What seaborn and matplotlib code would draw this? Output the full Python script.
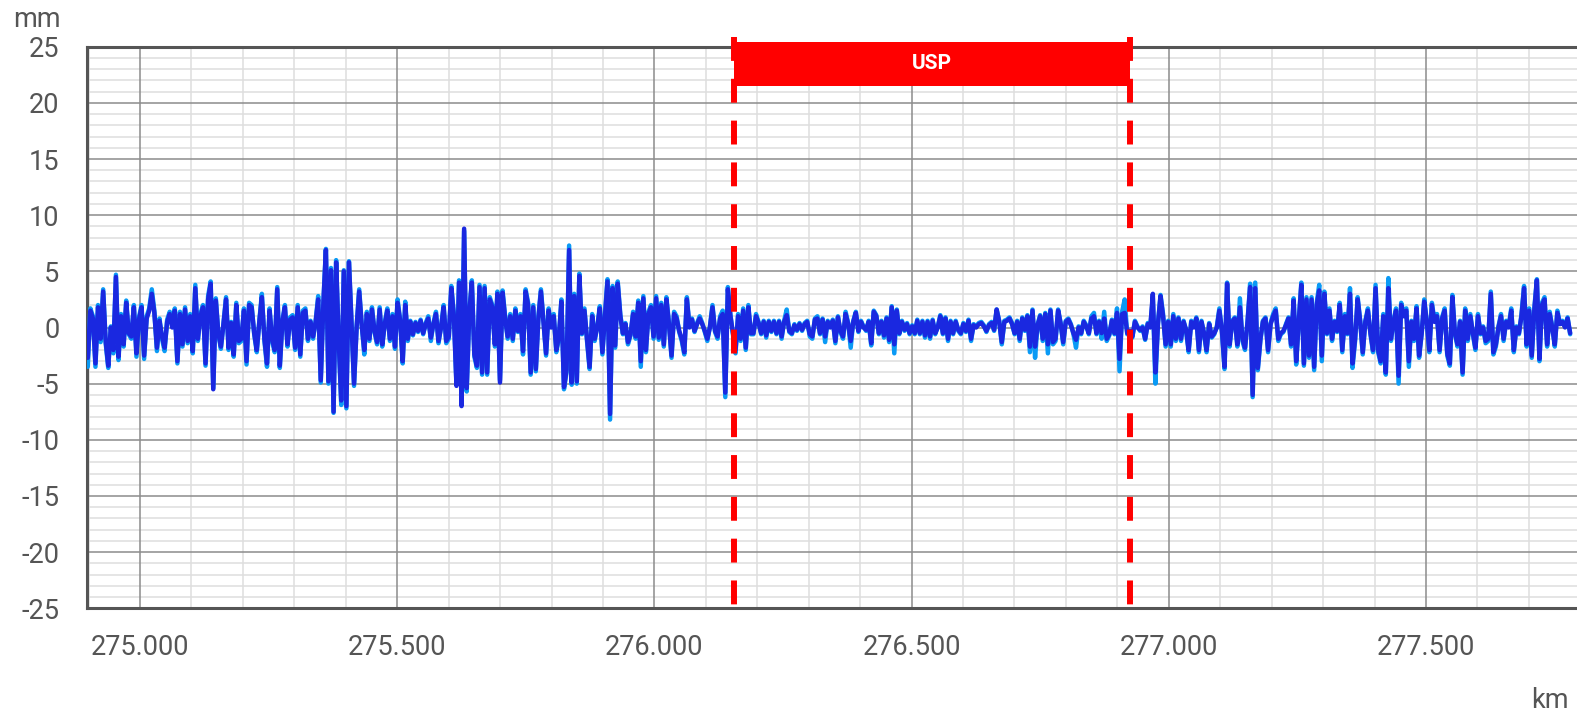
import numpy as np
import matplotlib
matplotlib.use("Agg")
import matplotlib.pyplot as plt
import seaborn as sns
from matplotlib.patches import Rectangle
from matplotlib.ticker import MultipleLocator, FuncFormatter

sns.set_theme(style="white")
plt.rcParams['font.family'] = ['Roboto', 'DejaVu Sans']

# ---------------- data ----------------
km_start = 274.8985      # first sample position (km)
km_step = 0.004977       # sample spacing (km)

# dark blue series, mm (one row = 100 m)
dark_mm = [
    -2.7, 1.5, 0.8, -3.2, 1.8, -1.0, 3.2, -1.2, -3.4, 0.0, -2.0, 4.5, -2.6, 1.0, -1.5, 2.2, -0.5, -0.8, 1.8, -2.3,
    0.7, 1.8, -2.5, 0.8, 1.5, 3.0, 1.3, -1.8, 0.6, -0.8, -1.8, 0.5, 1.2, 0.0, 1.5, -3.0, 1.2, -1.5, 1.6, -1.2,
    1.0, -2.1, 3.5, -1.0, 1.0, 1.8, -3.2, 2.5, 3.9, -5.5, 2.4, -0.5, -1.7, 0.3, 2.5, -1.8, 0.4, -2.4, 2.0, -1.2,
    -1.0, 1.5, -3.0, 2.0, 1.8, -0.5, -2.0, 0.5, 2.7, -1.0, -3.2, 1.5, -1.0, -2.0, 3.4, -3.4, 0.5, 1.8, -1.5, 0.7,
    0.9, -1.8, 1.8, -2.4, 1.3, 1.5, -1.0, 0.5, -0.8, 0.5, 2.5, -4.7, 2.0, 6.9, -4.8, 5.1, -7.5, 5.8, -1.0, -6.5,
    5.0, -7.0, 5.8, 0.5, -5.0, 0.0, 3.2, 0.2, -2.0, 1.2, -1.0, 1.6, -0.3, -1.3, 1.6, -1.5, 0.3, 1.5, -1.0, 1.0,
    -1.7, 2.2, 0.6, -3.0, 2.0, -1.0, 0.5, -0.6, 0.4, -0.3, 0.6, -0.5, 0.3, 0.8, -0.9, 0.3, 1.2, -1.2, 0.0, 1.8,
    -1.2, -0.8, 3.5, 1.0, -5.2, 4.0, -7.0, 8.8, -5.4, 1.2, 4.0, -2.4, -3.4, 3.6, -4.0, 3.5, -4.0, 2.5, 1.8, -1.5,
    3.0, -4.9, 3.1, 0.8, -0.8, 1.0, -1.0, 1.5, -0.3, 1.0, -2.1, 3.2, 2.0, -4.0, 1.8, -3.7, 0.8, 3.2, 0.5, -2.3,
    1.5, 0.0, 1.0, -2.0, -0.8, 2.3, -5.3, -3.8, 6.9, -4.9, 2.8, -4.8, 4.6, -0.5, 1.5, -1.0, -3.5, 1.0, -1.0, 0.0,
    1.7, -2.2, 1.0, 4.1, -7.7, 3.5, -1.6, 3.9, 1.0, -0.5, 0.3, -1.3, -0.6, 1.2, -0.8, 2.2, -3.0, 2.6, -2.0, 1.2,
    1.8, -0.8, 2.6, -0.9, 2.0, -1.5, 2.5, 0.3, -2.5, 1.2, 0.8, -0.3, -1.0, -2.2, 2.5, 0.0, 0.7, -0.3, 0.3, 0.8,
    0.3, -0.3, -1.0, 0.0, 1.8, -0.3, -0.8, 0.8, 1.2, -5.8, 3.4, 1.0, -0.5, -2.0, 1.0, -1.0, 1.5, -1.8, 1.8, -0.5,
    -0.5, 1.0, 0.4, -0.5, 0.5, -0.7, 0.5, -0.3, 0.5, -0.5, 0.5, -0.8, 0.5, 1.1, -0.3, -0.5, 0.2, -0.2, 0.3, -0.2,
    0.3, 0.5, -0.6, -0.8, 0.7, 0.8, -0.5, 0.7, -0.8, 0.5, 0.0, 0.6, -1.2, 0.9, -0.3, -0.8, 1.2, 0.3, -1.2, 0.5,
    1.3, -0.3, 0.5, 0.0, -0.2, 0.5, -1.4, 1.4, 1.0, -0.5, 0.5, -0.7, 0.8, -1.1, 1.8, -1.5, 1.5, -0.5, 0.5, -0.2,
    0.3, -0.5, 0.1, -0.5, 0.6, -0.5, 0.5, -0.7, 0.5, -0.8, 0.6, -0.5, 0.0, 1.0, -0.5, 0.8, -1.0, 0.5, -0.5, 0.5,
    -0.2, -0.5, 0.3, -0.3, 0.6, -1.0, 0.2, 0.0, 0.3, 0.4, 0.1, -0.3, 0.2, 0.4, -0.2, 1.6, 0.5, -1.3, 0.5, 0.6,
    0.8, 0.3, -0.5, 0.5, -1.0, 0.8, -0.2, 1.0, -1.7, 1.5, -1.7, 0.2, 1.0, -1.0, 1.2, -1.5, 1.5, -1.3, -1.0, 1.5,
    0.3, -1.3, 0.5, 0.7, 0.2, -0.5, -1.1, 0.0, -0.5, 0.5, 0.1, -0.5, 0.8, 1.0, -0.5, 0.5, -0.5, 0.8, -1.0, -0.6,
    0.6, -0.5, 1.3, -2.8, 1.2, 1.3, -0.5, -0.3, -0.8, 0.5, 0.0, -0.2, 0.0, -1.0, 0.3, 0.0, 3.0, -4.0, 0.3, 2.8,
    1.0, -1.5, 0.5, -1.5, 1.0, -1.0, 0.8, -1.0, 0.5, -0.2, -2.0, 0.5, 0.0, 0.8, -2.0, 0.5, -0.5, -2.0, 0.3, -0.8,
    -0.5, 0.0, 1.5, -0.3, -3.5, 3.9, -1.5, 0.5, 0.8, -1.5, 1.8, -1.0, -1.8, 0.5, 3.6, -6.0, 3.5, -3.6, -1.0, 0.5,
    0.8, -2.0, 0.3, 1.0, 1.5, -1.0, -0.5, -0.3, 0.2, 0.8, -1.5, 2.4, -3.0, 0.5, 3.8, -3.2, 2.5, -2.5, 2.5, -3.5,
    2.0, 3.3, -2.5, 3.0, -0.5, 1.5, -1.0, 0.5, -0.3, 2.0, -2.0, 1.0, -0.5, 3.0, -3.2, -1.0, 2.5, 0.5, -2.2, 0.5,
    1.5, -0.5, -2.0, 3.5, -2.0, -3.0, 1.0, -4.0, 3.5, -1.0, 0.5, 1.5, -4.3, 2.0, 1.0, 1.5, -3.0, 0.5, -1.0, 1.7,
    -2.5, -0.5, 2.3, 0.5, -2.0, 2.0, 0.5, 1.0, -2.0, 0.8, 1.5, -2.3, -3.2, 2.7, -0.5, -1.5, 0.5, -4.0, 1.5, -1.0,
    1.0, -0.5, -1.8, 1.0, -0.5, 0.0, -1.2, -1.0, 3.0, -2.2, -1.5, 0.0, 1.0, -1.0, 0.5, 0.0, 1.5, -2.0, 0.0, -0.5,
    1.0, 3.5, -1.5, 1.5, -2.5, 1.5, 4.2, -2.8, 2.0, 2.5, -1.5, 1.2, 0.0, -1.5, 1.3, 0.3, 0.5, 0.0, 0.8, -0.5,
]

# light blue series, mm (one row = 100 m)
light_mm = [
    -3.5, 1.7, 1.0, -3.5, 2.0, -1.3, 3.4, -1.4, -3.6, 0.1, -2.3, 4.7, -2.9, 1.2, -1.7, 2.4, -0.6, -1.0, 2.0, -2.6,
    0.9, 2.0, -2.8, 1.0, 1.7, 3.4, 1.5, -2.1, 0.8, -1.0, -2.1, 0.7, 1.4, 0.1, 1.7, -3.2, 1.4, -1.7, 1.8, -1.4,
    1.2, -2.3, 3.8, -1.2, 1.2, 2.0, -3.4, 2.8, 4.1, -5.4, 2.6, -0.6, -1.9, 0.4, 2.7, -2.0, 0.5, -2.6, 2.2, -1.4,
    -1.2, 1.7, -3.3, 2.2, 2.0, -0.6, -2.2, 0.6, 3.0, -1.2, -3.5, 1.7, -1.2, -2.2, 3.6, -3.6, 0.6, 2.0, -1.7, 0.9,
    1.1, -2.0, 2.0, -2.6, 1.5, 1.7, -1.2, 0.6, -1.0, 0.6, 2.8, -4.9, 2.2, 7.0, -5.0, 5.3, -7.6, 6.0, -1.2, -6.9,
    5.1, -7.2, 5.9, 0.6, -5.2, 0.1, 3.4, 0.3, -2.4, 1.4, -1.2, 1.8, -0.4, -1.5, 1.8, -1.7, 0.4, 1.7, -1.2, 1.2,
    -1.9, 2.5, 0.7, -3.2, 2.3, -1.2, 0.6, -0.7, 0.5, -0.4, 0.7, -0.6, 0.4, 1.0, -1.2, 0.4, 1.4, -1.4, 0.1, 2.0,
    -1.4, -1.0, 3.7, 1.2, -5.0, 4.2, -6.8, 8.6, -5.7, 1.4, 4.2, -2.6, -3.6, 3.8, -4.2, 3.7, -4.2, 2.7, 2.0, -1.7,
    3.2, -4.7, 3.3, 1.0, -1.0, 1.2, -1.2, 1.7, -0.4, 1.2, -2.4, 3.4, 2.2, -4.2, 2.0, -3.9, 1.0, 3.4, 0.6, -2.5,
    1.7, 0.1, 1.2, -2.2, -1.0, 2.5, -5.5, -4.0, 7.3, -5.1, 3.0, -5.0, 4.8, -0.6, 1.7, -1.2, -3.7, 1.2, -1.2, 0.1,
    1.9, -2.4, 1.2, 4.3, -8.2, 3.7, -1.8, 4.1, 1.2, -0.6, 0.4, -1.5, -0.7, 1.4, -1.0, 2.4, -3.5, 2.8, -2.2, 1.4,
    2.0, -1.0, 2.8, -1.1, 2.2, -1.7, 2.7, 0.4, -2.7, 1.4, 1.0, -0.4, -1.2, -2.4, 2.7, 0.1, 0.8, -0.4, 0.4, 1.0,
    0.4, -0.4, -1.2, 0.1, 2.0, -0.4, -1.0, 1.0, 1.5, -6.2, 3.6, 1.2, -0.6, -2.3, 1.2, -1.2, 1.7, -2.0, 2.0, -0.6,
    -0.6, 1.2, 0.5, -0.6, 0.6, -0.9, 0.6, -0.4, 0.6, -0.6, 0.6, -1.0, 0.6, 1.6, -0.4, -0.6, 0.3, -0.3, 0.4, -0.3,
    0.4, 0.6, -0.8, -1.0, 0.8, 1.0, -0.6, 0.8, -1.3, 0.6, 0.1, 0.7, -1.4, 1.0, -0.4, -1.0, 1.4, 0.4, -1.8, 0.6,
    1.4, -0.4, 0.6, 0.1, -0.3, 0.6, -1.6, 1.5, 1.1, -0.6, 0.6, -0.9, 0.9, -1.3, 1.9, -2.3, 1.6, -0.6, 0.6, -0.3,
    0.4, -0.6, 0.2, -0.6, 0.7, -0.6, 0.6, -0.9, 0.6, -1.0, 0.7, -0.6, 0.1, 1.1, -0.6, 0.9, -1.2, 0.6, -0.6, 0.6,
    -0.3, -0.6, 0.4, -0.4, 0.7, -1.2, 0.3, 0.1, 0.4, 0.5, 0.2, -0.4, 0.3, 0.5, -0.3, 1.6, 0.6, -1.5, 0.6, 0.7,
    0.9, 0.4, -0.6, 0.6, -1.2, 0.9, -0.3, 1.1, -2.2, 1.6, -2.7, 0.3, 1.1, -1.2, 1.3, -2.3, 1.6, -1.5, -1.2, 1.6,
    0.4, -1.5, 0.6, 0.8, 0.3, -0.6, -1.8, 0.1, -0.6, 0.6, 0.2, -0.6, 1.0, 1.3, -0.6, 0.6, -1.0, 1.4, -1.2, -0.7,
    0.7, -0.6, 1.7, -3.9, 1.4, 2.5, -0.6, -0.4, -0.9, 0.6, 0.1, -0.3, 0.1, -1.1, 0.4, 0.1, 2.6, -5.0, 0.4, 2.9,
    1.2, -1.7, 0.6, -1.7, 1.2, -1.2, 0.9, -1.2, 0.6, -0.3, -2.2, 0.6, 0.1, 0.9, -2.2, 0.6, -0.6, -2.2, 0.4, -0.9,
    -0.6, 0.1, 1.7, -0.4, -3.7, 4.0, -1.7, 0.6, 0.9, -1.7, 2.6, -1.2, -2.0, 0.6, 3.9, -6.2, 4.0, -3.8, -1.2, 0.6,
    0.9, -2.2, 0.4, 1.2, 1.7, -1.2, -0.6, -0.4, 0.3, 0.9, -1.7, 2.6, -3.3, 0.6, 4.0, -3.4, 2.7, -2.7, 2.7, -3.8,
    2.2, 3.8, -3.0, 3.2, -0.6, 1.7, -1.2, 0.6, -0.4, 2.2, -2.2, 1.2, -0.6, 3.5, -3.6, -1.2, 2.7, 0.6, -2.4, 0.6,
    1.7, -0.6, -2.2, 3.8, -2.2, -3.2, 1.2, -4.2, 4.4, -1.2, 0.6, 1.7, -5.0, 2.2, 1.2, 1.7, -3.5, 0.6, -1.2, 1.9,
    -2.7, -0.6, 2.5, 0.6, -2.2, 2.2, 0.6, 1.2, -2.2, 0.9, 1.7, -2.5, -3.4, 2.9, -0.6, -1.7, 0.6, -4.2, 1.7, -1.2,
    1.2, -0.6, -2.0, 1.2, -0.6, 0.1, -1.4, -1.2, 3.2, -2.4, -1.7, 0.1, 1.2, -1.2, 0.6, 0.1, 1.7, -2.2, 0.1, -0.6,
    1.2, 3.7, -1.7, 1.7, -2.7, 1.7, 4.3, -3.0, 2.2, 2.7, -1.7, 1.4, 0.1, -1.7, 1.5, 0.4, 0.6, 0.1, 0.9, -0.6,
]

usp_start_km = 276.1548
usp_end_km = 276.924
usp_label = "USP"
usp_box_bottom = 21.53
usp_box_top = 25.45
x_min, x_max = 274.8964, 277.7935
y_min, y_max = -25, 25

km = np.round(km_start + km_step * np.arange(len(dark_mm)), 4)

# ---------------- figure ----------------
W, H = 1577, 714
fig = plt.figure(figsize=(W / 100, H / 100), dpi=100)
ax = fig.add_axes([86.7 / W, 105.7 / H, 1 - 86.7 / W, 561.6 / H])

sns.lineplot(x=km, y=light_mm, ax=ax, color='#0a9af5', linewidth=3.2,
             estimator=None, sort=False, zorder=3, solid_joinstyle='round')
sns.lineplot(x=km, y=dark_mm, ax=ax, color='#1a28e0', linewidth=3.2,
             estimator=None, sort=False, zorder=4, solid_joinstyle='round')

ax.set_xlim(x_min, x_max)
ax.set_ylim(y_min, y_max)
ax.set_xlabel('')
ax.set_ylabel('')

ax.xaxis.set_major_locator(MultipleLocator(0.5))
ax.xaxis.set_minor_locator(MultipleLocator(0.1))
ax.yaxis.set_major_locator(MultipleLocator(5))
ax.yaxis.set_minor_locator(MultipleLocator(1))
ax.xaxis.set_major_formatter(FuncFormatter(lambda v, p: f"{v:.3f}"))
ax.yaxis.set_major_formatter(FuncFormatter(lambda v, p: f"{int(round(v))}"))

# minor grid from the axes, major grid drawn above it so it stays continuous
ax.set_axisbelow(True)
ax.grid(which='minor', color='#dedede', linewidth=1.1)
ax.grid(which='major', visible=False)
for xv in ax.get_xticks():
    if x_min <= xv <= x_max:
        ax.axvline(xv, color='#8c8c8c', linewidth=1.1, zorder=1)
for yv in ax.get_yticks():
    if y_min < yv < y_max:
        ax.axhline(yv, color='#8c8c8c', linewidth=1.1, zorder=1)

ax.tick_params(which='major', axis='both', length=12.5, width=1.1, color='#6a6a6a',
               labelsize=19.5, labelcolor='#555555')
ax.tick_params(which='major', axis='y', pad=7)
ax.tick_params(which='major', axis='x', pad=6)
ax.tick_params(which='minor', length=0)

for side in ['left', 'top', 'bottom']:
    ax.spines[side].set_color('#555555')
    ax.spines[side].set_linewidth(2.2)
    ax.spines[side].set_visible(True)
ax.spines['right'].set_visible(False)

# USP band
ax.add_patch(Rectangle((usp_start_km, usp_box_bottom), usp_end_km - usp_start_km,
                       usp_box_top - usp_box_bottom, facecolor='#ff0000', edgecolor='none',
                       clip_on=False, zorder=6))
for xv in (usp_start_km, usp_end_km):
    ax.plot([xv, xv], [25.84, y_min], color='#ff0000', linewidth=4.3,
            linestyle=(0, (4.0, 3.0)), dash_capstyle='butt', clip_on=False, zorder=7)
ax.text((usp_start_km + usp_end_km) / 2, (usp_box_bottom + usp_box_top) / 2, usp_label,
        color='white', fontsize=15, fontweight='bold', ha='center', va='center', zorder=8)

fig.text(13.3 / W, 1 - 27.3 / H, 'mm', fontsize=19.5, color='#555555', ha='left', va='baseline')
fig.text(1569 / W, 1 - 708.3 / H, 'km', fontsize=19.5, color='#555555', ha='right', va='baseline')

fig.savefig('out.png', dpi=100)
